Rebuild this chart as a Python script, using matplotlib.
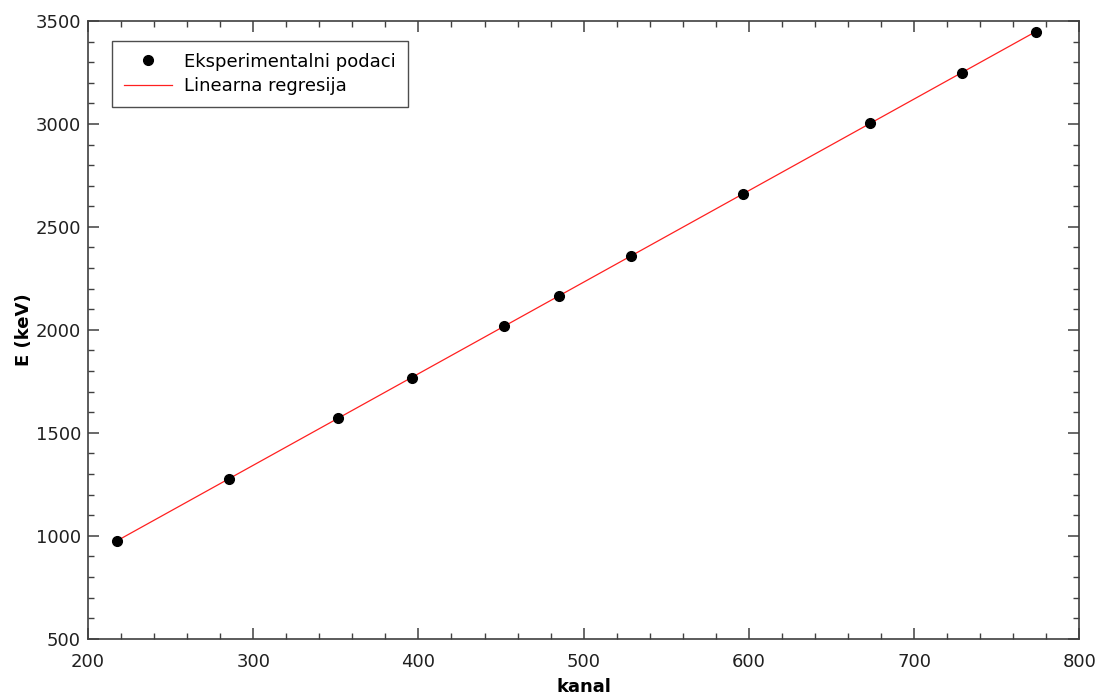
import numpy as np
import matplotlib
matplotlib.use("Agg")
import matplotlib.pyplot as plt
from matplotlib.ticker import MultipleLocator

# channel vs. energy calibration points
kanal = [217.4, 285.4, 351.5, 396.3, 451.6, 485.1, 528.7, 596.3, 673.0, 729.0, 773.8]
energija = [976, 1274, 1573, 1768, 2019, 2166, 2359, 2658, 3006, 3249, 3447]

plt.rcParams['font.family'] = ['DejaVu Sans']

fig = plt.figure(figsize=(11.04, 7.0), dpi=100)
ax = fig.add_axes([0.0797, 0.0876, 0.898, 0.8824])

# linear fit over data range
k, n = np.polyfit(kanal, energija, 1)
xf = np.array([min(kanal), max(kanal)])
ax.plot(kanal, energija, 'o', color='black', markersize=7, label='Eksperimentalni podaci', zorder=3)
ax.plot(xf, k * xf + n, '-', color='#ff2020', lw=0.9, label='Linearna regresija', zorder=2)

ax.set_xlim(200, 800)
ax.set_ylim(500, 3500)
ax.xaxis.set_major_locator(MultipleLocator(100))
ax.xaxis.set_minor_locator(MultipleLocator(20))
ax.yaxis.set_major_locator(MultipleLocator(500))
ax.yaxis.set_minor_locator(MultipleLocator(100))

spine_c = '#404040'
for s in ax.spines.values():
    s.set_color(spine_c)
    s.set_linewidth(1.2)
ax.tick_params(which='both', direction='in', top=True, right=True, color=spine_c,
               labelsize=13, labelcolor='#202020')
ax.tick_params(which='major', length=8, width=1.1)
ax.tick_params(which='minor', length=4.5, width=1.0)
ax.tick_params(axis='x', which='major', pad=10)
ax.tick_params(axis='y', which='major', pad=5)

ax.set_xlabel('kanal', fontsize=13, fontweight='bold', labelpad=5)
ax.set_ylabel('E (keV)', fontsize=13, fontweight='bold', labelpad=2)

leg = ax.legend(loc='upper left', bbox_to_anchor=(0.0242, 0.968), fontsize=13,
                frameon=True, fancybox=False, borderpad=0.65, handlelength=2.7,
                handletextpad=0.65, labelspacing=0.35, borderaxespad=0)
leg.get_frame().set_edgecolor('#202020')
leg.get_frame().set_linewidth(1.0)

fig.savefig('out.png', dpi=100)
